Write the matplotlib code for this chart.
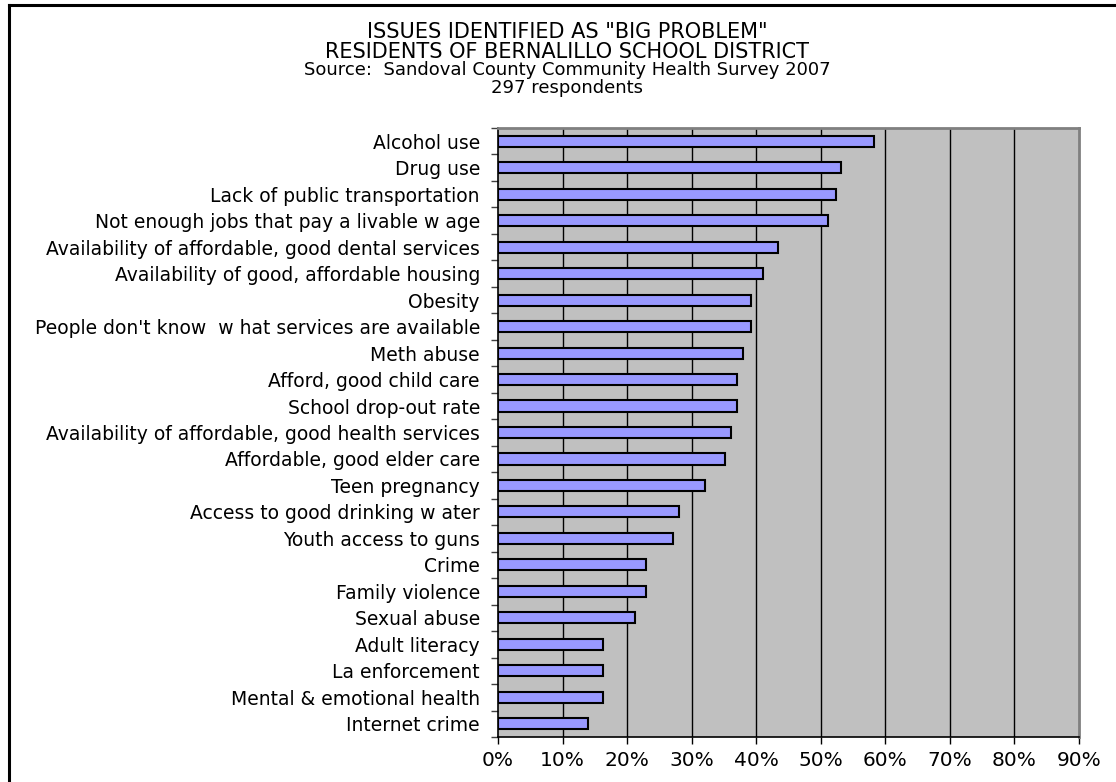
import matplotlib.pyplot as plt
from matplotlib.lines import Line2D
from matplotlib.ticker import FuncFormatter

# Issues and share of respondents calling each a "big problem" (%)
issues = [
    "Alcohol use",
    "Drug use",
    "Lack of public transportation",
    "Not enough jobs that pay a livable w age",
    "Availability of affordable, good dental services",
    "Availability of good, affordable housing",
    "Obesity",
    "People don't know  w hat services are available",
    "Meth abuse",
    "Afford, good child care",
    "School drop-out rate",
    "Availability of affordable, good health services",
    "Affordable, good elder care",
    "Teen pregnancy",
    "Access to good drinking w ater",
    "Youth access to guns",
    "Crime",
    "Family violence",
    "Sexual abuse",
    "Adult literacy",
    "La enforcement",
    "Mental & emotional health",
    "Internet crime",
]
percents = [58.3, 53.2, 52.3, 51.1, 43.3, 41.1, 39.2, 39.2, 37.9, 37.0, 37.0,
            36.1, 35.2, 32.0, 28.0, 27.1, 23.0, 23.0, 21.2, 16.2, 16.2, 16.2, 14.0]
xticks = [0, 10, 20, 30, 40, 50, 60, 70, 80, 90]

title_lines = [
    'ISSUES IDENTIFIED AS "BIG PROBLEM"',
    "RESIDENTS OF BERNALILLO SCHOOL DISTRICT",
    "Source:  Sandoval County Community Health Survey 2007",
    "297 respondents",
]

W, H = 1116, 782
fig = plt.figure(figsize=(W / 100, H / 100), dpi=100)
fig.patch.set_facecolor("white")

# plot area in pixel coords -> figure fractions
left, right, top, bottom = 498, 1079, 128, 737
ax = fig.add_axes([left / W, 1 - bottom / H, (right - left) / W, (bottom - top) / H])
ax.set_facecolor("#C0C0C0")

ypos = list(range(len(issues)))
ax.barh(ypos, percents, height=0.42, color="#9999FF", edgecolor="black",
        linewidth=1.5, zorder=3)

ax.set_xlim(0, 90)
ax.set_ylim(len(issues) - 0.5, -0.5)

# vertical gridlines
for x in xticks[1:-1]:
    ax.axvline(x, color="black", lw=1, zorder=1)

ax.set_xticks(xticks)
ax.xaxis.set_major_formatter(FuncFormatter(lambda v, p: f"{v:.0f}%"))
ax.tick_params(axis="x", direction="out", length=5, width=1, color="black",
               pad=5, labelsize=14.5)

# y ticks on category boundaries, labels at the centres
ax.set_yticks([i - 0.5 for i in range(len(issues) + 1)])
ax.set_yticklabels([])
ax.set_yticks(ypos, minor=True)
ax.set_yticklabels(issues, minor=True)
ax.tick_params(axis="y", which="major", direction="out", length=5, width=1,
               color="#404040")
ax.tick_params(axis="y", which="minor", length=0, pad=13, labelsize=13.5)

for lab in ax.get_xticklabels() + ax.get_yticklabels(minor=True):
    lab.set_fontfamily("DejaVu Sans")

ax.spines["left"].set_color("black")
ax.spines["bottom"].set_color("black")
ax.spines["top"].set_color("#808080")
ax.spines["right"].set_color("#808080")
for s in ["top", "right"]:
    ax.spines[s].set_linewidth(2)
for s in ["left", "bottom"]:
    ax.spines[s].set_linewidth(1.2)

# title block
title_y = [32, 52, 70, 88]
title_size = [15, 15, 13, 13]
for txt, y, sz in zip(title_lines, title_y, title_size):
    fig.text(567 / W, 1 - y / H, txt, ha="center", va="center", fontsize=sz,
             family="DejaVu Sans")

# outer chart border (left and top edges visible)
fig.add_artist(Line2D([8.5 / W, 8.5 / W], [0, 1 - 4.5 / H], color="black",
                      lw=2.2, transform=fig.transFigure))
fig.add_artist(Line2D([8.5 / W, 1], [1 - 4.5 / H, 1 - 4.5 / H], color="black",
                      lw=2.2, transform=fig.transFigure))

fig.savefig("out.png", dpi=100)
